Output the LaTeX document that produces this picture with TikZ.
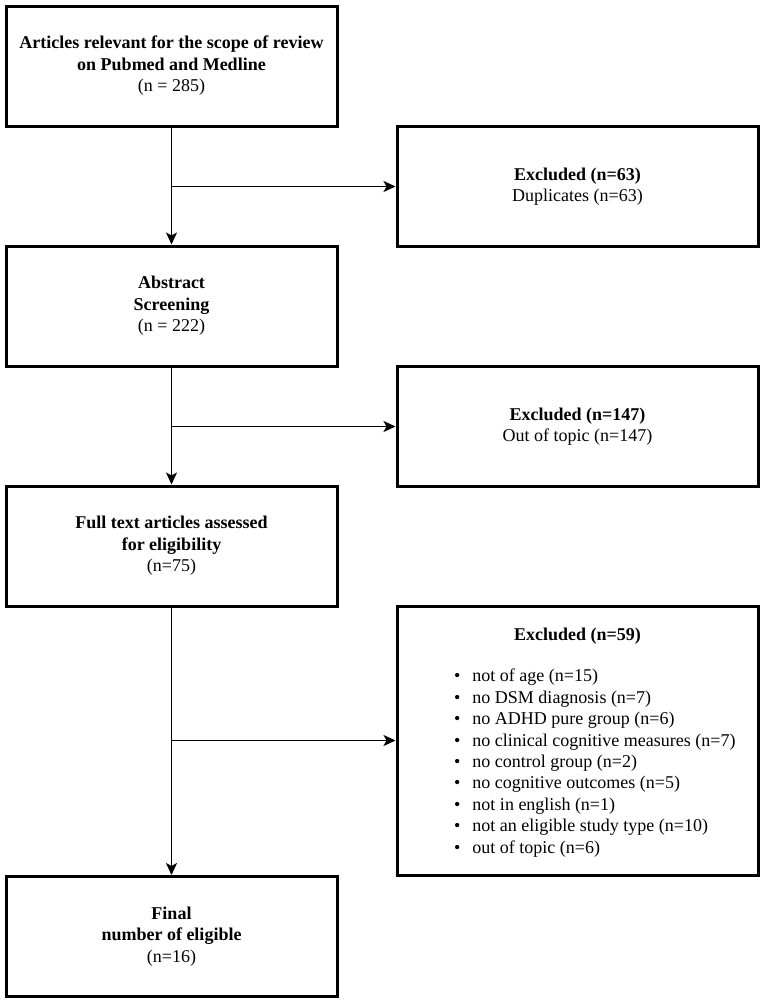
\documentclass[tikz,border=0pt]{standalone}
\usepackage{fontspec}
\setmainfont{Liberation Serif}
\usetikzlibrary{arrows.meta}
\begin{document}
\begin{tikzpicture}
    [x=1pt,y=-1pt,
     box/.style={draw=black,line width=3pt,minimum width=331pt,minimum height=120pt,
       inner sep=0pt,align=center,font=\fontsize{18}{21.5}\selectfont},
     side/.style={box,minimum width=361pt},
     pre/.style={{Stealth[length=12pt,width=11pt,inset=3pt]}-,line width=1.8pt}]
    \useasboundingbox (0,0) rectangle (765,1004);
    \node [box] (A) at (171.5,66)
      {\textbf{Articles relevant for the scope of review}\\\textbf{on Pubmed and Medline}\\(n = 285)};
    \node [box] (B) at (171.5,306) {\textbf{Abstract}\\\textbf{Screening}\\(n = 222)}
      edge [pre] (A);
    \node [box] (C) at (171.5,546) {\textbf{Full text articles assessed}\\\textbf{for eligibility}\\(n=75)}
      edge [pre] (B);
    \node [box] (D) at (171.5,936.5) {\textbf{Final}\\\textbf{number of eligible}\\(n=16)}
      edge [pre] (C);
    \coordinate (a1) at (171.5,186.5);
    \coordinate (a2) at (171.5,426.5);
    \coordinate (a3) at (171.5,740.5);
    \node [side] (E) at (577.5,186.5) {\textbf{Excluded (n=63)}\\Duplicates (n=63)}
      edge [pre] (a1);
    \node [side] (F) at (577.5,426.5) {\textbf{Excluded (n=147)}\\Out of topic (n=147)}
      edge [pre] (a2);
    \node [side,minimum height=269pt] (G) at (577.5,740.5) {}
      edge [pre] (a3);
    \node [font=\fontsize{18}{21.5}\selectfont\bfseries,inner sep=0pt] (Gt) at (577.5,636) {Excluded (n=59)};
    \node [font=\fontsize{18}{21.4}\selectfont,align=left,inner sep=0pt,anchor=north west] (Gl) at (454,669)
      {\textbullet\hspace{12pt}not of age (n=15)\\
       \textbullet\hspace{12pt}no DSM diagnosis (n=7)\\
       \textbullet\hspace{12pt}no ADHD pure group (n=6)\\
       \textbullet\hspace{12pt}no clinical cognitive measures (n=7)\\
       \textbullet\hspace{12pt}no control group (n=2)\\
       \textbullet\hspace{12pt}no cognitive outcomes (n=5)\\
       \textbullet\hspace{12pt}not in english (n=1)\\
       \textbullet\hspace{12pt}not an eligible study type (n=10)\\
       \textbullet\hspace{12pt}out of topic (n=6)};
  \end{tikzpicture}
\end{document}
